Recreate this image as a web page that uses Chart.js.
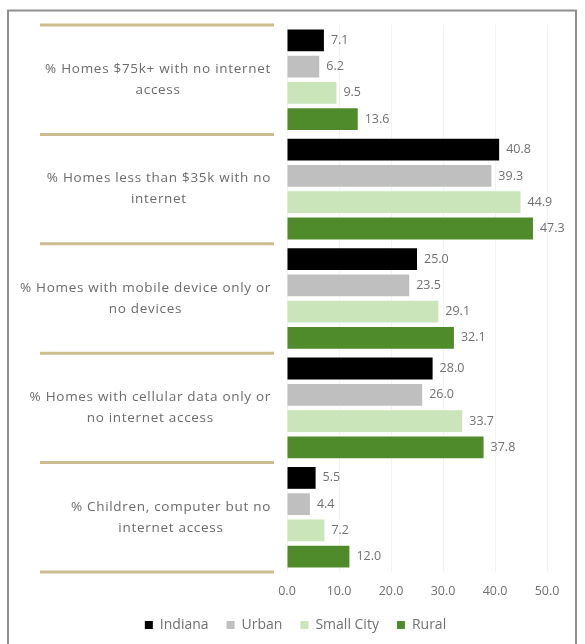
<!DOCTYPE html>
<html>
<head>
<meta charset="utf-8">
<script src="https://cdn.jsdelivr.net/npm/chart.js@4.4.1/dist/chart.umd.min.js"></script>
<style>
  html, body { margin: 0; padding: 0; background: #ffffff; }
  canvas { display: block; }
</style>
</head>
<body>
<canvas id="c" width="585" height="644"></canvas>
<script>
// ---- data ----
const categories = [
  ["% Homes $75k+ with no internet", "access"],
  ["% Homes less than $35k with no", "internet"],
  ["% Homes with mobile device only or", "no devices"],
  ["% Homes with cellular data only or", "no internet access"],
  ["% Children, computer but no", "internet access"]
];
const seriesNames = ["Indiana", "Urban", "Small City", "Rural"];
const indiana   = [7.1, 40.8, 25.0, 28.0, 5.5];
const urban     = [6.2, 39.3, 23.5, 26.0, 4.4];
const smallCity = [9.5, 44.9, 29.1, 33.7, 7.2];
const rural     = [13.6, 47.3, 32.1, 37.8, 12.0];
const xTicks    = [0, 10, 20, 30, 40, 50];

const colors = ["#000000", "#bfbfbf", "#c9e5b9", "#4f8a2b"];
const LABEL_FONT = "13.5px 'Open Sans', sans-serif";

const framePlugin = {
  id: 'frame',
  beforeDraw(chart) {
    const ctx = chart.ctx;
    ctx.save();
    ctx.strokeStyle = '#8f8f8f';
    ctx.lineWidth = 2;
    ctx.strokeRect(8, 10.5, 568, 650);
    ctx.restore();
  }
};

const categoryPlugin = {
  id: 'catLabels',
  afterDraw(chart) {
    const ctx = chart.ctx;
    const y = chart.scales.y;
    const n = categories.length;
    const step = y.getPixelForValue(1) - y.getPixelForValue(0);
    ctx.save();
    ctx.strokeStyle = '#cbbd8d';
    ctx.lineWidth = 3;
    for (let i = 0; i <= n; i++) {
      const py = (i < n ? y.getPixelForValue(i) : y.getPixelForValue(n - 1) + step) - step / 2;
      ctx.beginPath();
      ctx.moveTo(40, py);
      ctx.lineTo(274, py);
      ctx.stroke();
    }
    ctx.font = LABEL_FONT;
    ctx.letterSpacing = '0.7px';
    ctx.fillStyle = '#6b6b6b';
    ctx.textAlign = 'center';
    ctx.textBaseline = 'middle';
    const right = 271, lh = 21;
    categories.forEach((lines, i) => {
      const cy = y.getPixelForValue(i);
      const w = Math.max(...lines.map(l => ctx.measureText(l).width));
      const cx = right - w / 2;
      const top = cy - (lines.length - 1) * lh / 2;
      lines.forEach((l, k) => ctx.fillText(l, cx, top + k * lh));
    });
    ctx.restore();
  }
};

const valueLabelPlugin = {
  id: 'valueLabels',
  afterDatasetsDraw(chart) {
    const ctx = chart.ctx;
    ctx.save();
    ctx.font = "12.5px 'Open Sans', sans-serif";
    ctx.fillStyle = '#707070';
    ctx.textAlign = 'left';
    ctx.textBaseline = 'middle';
    chart.data.datasets.forEach((ds, di) => {
      const meta = chart.getDatasetMeta(di);
      meta.data.forEach((bar, i) => {
        ctx.fillText(ds.data[i].toFixed(1), bar.x + 7, bar.y);
      });
    });
    ctx.restore();
  }
};

new Chart(document.getElementById('c'), {
  type: 'bar',
  data: {
    labels: categories,
    datasets: [
      { label: seriesNames[0], data: indiana,   backgroundColor: colors[0] },
      { label: seriesNames[1], data: urban,     backgroundColor: colors[1] },
      { label: seriesNames[2], data: smallCity, backgroundColor: colors[2] },
      { label: seriesNames[3], data: rural,     backgroundColor: colors[3] }
    ]
  },
  options: {
    indexAxis: 'y',
    responsive: false,
    animation: false,
    devicePixelRatio: 1,
    categoryPercentage: 0.96,
    barPercentage: 0.83,
    layout: { padding: { left: 44, right: 38, top: 25, bottom: 2 } },
    scales: {
      y: {
        display: true, offset: true,
        afterFit: s => { s.width = 243; },
        grid: { display: false },
        border: { display: false },
        ticks: { display: false }
      },
      x: {
        min: 0, max: 50,
        afterBuildTicks: s => { s.ticks = xTicks.map(v => ({ value: v })); },
        afterFit: s => { s.height = 28; },
        grid: { display: true, color: '#f3f3f3', drawTicks: false },
        border: { display: false },
        ticks: {
          padding: 12,
          color: '#707070',
          font: { family: "'Open Sans', sans-serif", size: 12.5 },
          callback: v => Number(v).toFixed(1)
        }
      }
    },
    plugins: {
      legend: {
        position: 'bottom',
        labels: {
          boxWidth: 8, boxHeight: 8, padding: 18,
          color: '#707070',
          font: { family: "'Open Sans', sans-serif", size: 14 }
        }
      },
      tooltip: { enabled: false }
    }
  },
  plugins: [framePlugin, categoryPlugin, valueLabelPlugin]
});
</script>
</body>
</html>
